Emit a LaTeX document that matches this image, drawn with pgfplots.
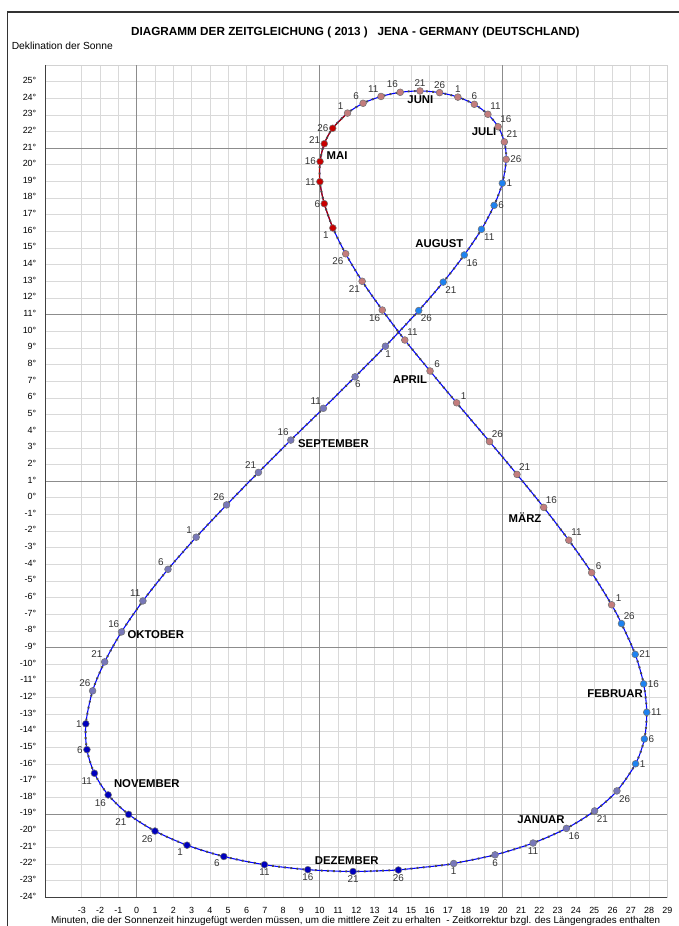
\documentclass[border=0pt]{standalone}
\usepackage{pgfplots}
\pgfplotsset{compat=1.18}
\usepackage{pgfplotstable}
\usepackage{fontspec}
\setmainfont{Liberation Sans}

\definecolor{cSl}{RGB}{120,120,185}
\definecolor{cDb}{RGB}{30,130,240}
\definecolor{cRo}{RGB}{195,125,125}
\definecolor{cRd}{RGB}{200,0,0}
\definecolor{cNv}{RGB}{0,0,190}

% x: minutes (incl. longitude correction), y: declination as drawn, c: colour class
% rows: days 1, 6, 11, 16, 21, 26 of each month, January to December
\pgfplotstableread{
x y c
17.32 -21.96 sl
19.58 -21.44 sl
21.66 -20.73 sl
23.48 -19.85 sl
25.02 -18.80 sl
26.24 -17.60 sl
27.26 -15.97 db
27.74 -14.48 db
27.87 -12.88 db
27.70 -11.17 db
27.24 -9.40 db
26.49 -7.55 db
25.95 -6.42 ro
24.86 -4.49 ro
23.61 -2.54 ro
22.24 -0.57 ro
20.78 1.41 ro
19.28 3.38 ro
17.48 5.71 ro
16.03 7.62 ro
14.65 9.48 ro
13.42 11.28 ro
12.32 13.01 ro
11.42 14.66 ro
10.72 16.21 rd
10.25 17.67 rd
10.01 18.99 rd
10.02 20.20 rd
10.25 21.27 rd
10.71 22.20 rd
11.52 23.11 ro
12.37 23.70 ro
13.35 24.11 ro
14.40 24.36 ro
15.48 24.44 ro
16.55 24.34 ro
17.55 24.07 ro
18.45 23.64 ro
19.19 23.04 ro
19.75 22.29 ro
20.09 21.38 ro
20.19 20.33 ro
19.98 18.90 db
19.53 17.57 db
18.84 16.13 db
17.90 14.59 db
16.75 12.96 db
15.41 11.25 db
13.59 9.11 sl
11.93 7.27 sl
10.20 5.38 sl
8.42 3.47 sl
6.65 1.53 sl
4.91 -0.42 sl
3.25 -2.36 sl
1.71 -4.29 sl
0.34 -6.19 sl
-0.83 -8.05 sl
-1.75 -9.85 sl
-2.41 -11.59 sl
-2.78 -13.57 nv
-2.72 -15.12 nv
-2.31 -16.54 nv
-1.56 -17.84 nv
-0.44 -19.01 nv
1.00 -20.01 nv
2.75 -20.86 nv
4.76 -21.54 nv
6.98 -22.03 nv
9.35 -22.33 nv
11.82 -22.44 nv
14.30 -22.35 nv
}\sun

\begin{document}
\begin{tikzpicture}[
  ml/.style={font=\bfseries\fontsize{8.5}{10}\selectfont, inner sep=0pt},
  daydots/.style={draw=black!70, line width=1.5pt, line cap=butt, dash pattern=on 1.3pt off 3.3pt}
]
\begin{axis}[
  scale only axis, width=466.7pt, height=624.4pt,
  xmin=-5, xmax=29, ymin=-24, ymax=26,
  clip=false,
  xtick={-3,...,29},
  xticklabels={-3,-2,-1,0,1,2,3,4,5,6,7,8,9,10,11,12,13,14,15,16,17,18,19,20,21,22,23,24,25,26,27,28,29},
  ytick={-24,...,25},
  yticklabels={-24°,-23°,-22°,-21°,-20°,-19°,-18°,-17°,-16°,-15°,-14°,-13°,-12°,-11°,-10°,-9°,-8°,-7°,-6°,-5°,-4°,-3°,-2°,-1°,0°,1°,2°,3°,4°,5°,6°,7°,8°,9°,10°,11°,12°,13°,14°,15°,16°,17°,18°,19°,20°,21°,22°,23°,24°,25°},
  major tick length=0pt,
  grid=major, grid style={gray!30, line width=0.6pt},
  extra x ticks={0,10,20}, extra x tick labels={},
  extra x tick style={grid style={black!45, line width=0.6pt}},
  extra y ticks={-19,-9,1,11,21}, extra y tick labels={},
  extra y tick style={grid style={black!45, line width=0.6pt}},
  axis line style={draw=gray!35},
  ticklabel style={font=\fontsize{6.7}{7}\selectfont},
  xticklabel style={anchor=center, yshift=-9.4pt},
  yticklabel style={anchor=east, inner sep=0pt, xshift=-6.5pt, yshift=1pt},
  lbl/.style={draw=none, mark=none, point meta=explicit symbolic, nodes near coords,
    nodes near coords style={anchor=#1, inner sep=3pt, text=black!80, font=\fontsize{7.4}{8}\selectfont}},
]
\draw[black!75, line width=0.8pt] (rel axis cs:0,1) -- (rel axis cs:0,0) -- (rel axis cs:1,0);

\addplot[blue, line width=0.8pt, smooth, mark=none] table[x=x, y=y] {\sun};
\addplot[blue, line width=0.8pt, smooth, mark=none] coordinates {(14.30,-22.35) (16.73,-22.06) (17.32,-21.96)};
\addplot[cRd!85!black, line width=0.9pt, smooth, mark=none] coordinates {
  (10.72,16.21) (10.25,17.67) (10.01,18.99) (10.02,20.20) (10.25,21.27) (10.71,22.20) (11.52,23.11)};
\addplot[daydots, smooth, mark=none] table[x=x, y=y] {\sun};
\addplot[daydots, smooth, mark=none] coordinates {(14.30,-22.35) (16.73,-22.06) (17.32,-21.96)};

\addplot[scatter, only marks, mark size=2.55pt,
  scatter src=explicit symbolic,
  scatter/classes={
    sl={mark=*, draw=black!55, fill=cSl},
    db={mark=*, draw=black!55, fill=cDb},
    ro={mark=*, draw=black!55, fill=cRo},
    rd={mark=*, draw=black!55, fill=cRd},
    nv={mark=*, draw=black!55, fill=cNv}},
] table[x=x, y=y, meta=c] {\sun};

% day numbers, grouped by the side on which they sit
\addplot[lbl=90] coordinates {(17.32,-21.96)[1] (19.58,-21.44)[6] (21.66,-20.73)[11]
  (6.98,-22.03)[11] (9.35,-22.33)[16] (11.82,-22.44)[21] (14.30,-22.35)[26]};
\addplot[lbl=110] coordinates {(13.59,9.11)[1] (11.93,7.27)[6]};
\addplot[lbl=135] coordinates {(23.48,-19.85)[16] (25.02,-18.80)[21] (26.24,-17.60)[26]
  (18.84,16.13)[11] (17.90,14.59)[16] (16.75,12.96)[21] (15.41,11.25)[26]};
\addplot[lbl=180] coordinates {(27.26,-15.97)[1] (27.74,-14.48)[6] (27.87,-12.88)[11]
  (27.70,-11.17)[16] (27.24,-9.40)[21] (20.19,20.33)[26] (19.98,18.90)[1] (19.53,17.57)[6]};
\addplot[lbl=225] coordinates {(26.49,-7.55)[26] (25.95,-6.42)[1] (24.86,-4.49)[6]
  (23.61,-2.54)[11] (22.24,-0.57)[16] (20.78,1.41)[21] (19.28,3.38)[26]
  (17.48,5.71)[1] (16.03,7.62)[6] (14.65,9.48)[11]
  (19.19,23.04)[11] (19.75,22.29)[16] (20.09,21.38)[21]};
\addplot[lbl=45] coordinates {(13.42,11.28)[16] (12.32,13.01)[21] (11.42,14.66)[26]
  (10.72,16.21)[1] (-2.31,-16.54)[11] (-1.56,-17.84)[16] (-0.44,-19.01)[21]
  (1.00,-20.01)[26] (2.75,-20.86)[1] (4.76,-21.54)[6]};
\addplot[lbl=0] coordinates {(10.25,17.67)[6] (10.01,18.99)[11] (10.02,20.20)[16]
  (10.71,22.20)[26] (-2.78,-13.57)[1] (-2.72,-15.12)[6]};
\addplot[lbl=340] coordinates {(10.25,21.27)[21]};
\addplot[lbl=315] coordinates {(11.52,23.11)[1] (12.37,23.70)[6] (13.35,24.11)[11]
  (14.40,24.36)[16] (10.20,5.38)[11] (8.42,3.47)[16] (6.65,1.53)[21] (4.91,-0.42)[26]
  (3.25,-2.36)[1] (1.71,-4.29)[6] (0.34,-6.19)[11] (-0.83,-8.05)[16] (-1.75,-9.85)[21]
  (-2.41,-11.59)[26]};
\addplot[lbl=270] coordinates {(15.48,24.44)[21] (16.55,24.34)[26] (17.55,24.07)[1] (18.45,23.64)[6]};

\node[ml] at (axis cs:15.5,23.94) {JUNI};
\node[ml] at (axis cs:18.98,22.0) {JULI};
\node[ml] at (axis cs:10.95,20.56) {MAI};
\node[ml] at (axis cs:16.54,15.3) {AUGUST};
\node[ml] at (axis cs:14.93,7.08) {APRIL};
\node[ml] at (axis cs:10.75,3.28) {SEPTEMBER};
\node[ml] at (axis cs:21.22,-1.16) {MÄRZ};
\node[ml] at (axis cs:1.04,-8.23) {OKTOBER};
\node[ml] at (axis cs:26.14,-11.73) {FEBRUAR};
\node[ml] at (axis cs:0.55,-17.14) {NOVEMBER};
\node[ml] at (axis cs:22.09,-19.34) {JANUAR};
\node[ml] at (axis cs:11.48,-21.79) {DEZEMBER};

\node[font=\bfseries\fontsize{8.8}{10}\selectfont] at (axis cs:11.95,27.98)
  {DIAGRAMM DER ZEITGLEICHUNG ( 2013 )\ \ \ JENA - GERMANY (DEUTSCHLAND)};
\node[anchor=west, inner sep=0pt, font=\fontsize{7.7}{8}\selectfont] at (axis cs:-6.84,27.15)
  {Deklination der Sonne};
\node[font=\fontsize{7.4}{8}\selectfont] at (axis cs:11.96,-25.4)
  {Minuten, die der Sonnenzeit hinzugefügt werden müssen, um die mittlere Zeit zu erhalten\ \ - Zeitkorrektur bzgl. des Längengrades enthalten};
\end{axis}
\pgfresetboundingbox
\useasboundingbox ([shift={(-33.9pt,-21.4pt)}]current axis.south west)
  rectangle ([shift={(7.95pt,48.75pt)}]current axis.north east);
\draw[black!80, line width=1pt] ([shift={(-28.3pt,-40pt)}]current axis.south west)
  -- ([shift={(-28.3pt,39.75pt)}]current axis.north west)
  -- ([shift={(40pt,39.75pt)}]current axis.north east);
\end{tikzpicture}
\end{document}
